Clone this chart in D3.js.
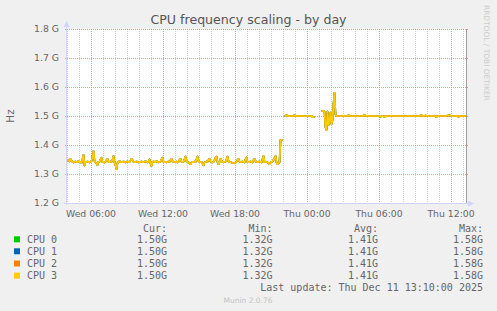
<!DOCTYPE html>
<html><head><meta charset="utf-8">
<script src="https://cdn.jsdelivr.net/npm/d3@7"></script>
<style>html,body{margin:0;padding:0;background:#f0f0f0;}svg{display:block;}</style>
</head><body>
<svg id="chart" width="497" height="311"></svg>
<script>
// ---- data ----
const title = "CPU frequency scaling - by day";
const yTicks = [1200, 1300, 1400, 1500, 1600, 1700, 1800]; // MHz
const yTickLabels = ["1.2 G", "1.3 G", "1.4 G", "1.5 G", "1.6 G", "1.7 G", "1.8 G"];
const seriesNames = ["CPU 0", "CPU 1", "CPU 2", "CPU 3"];
const seriesColors = ["#00cc00", "#0066b3", "#ff8000", "#ffcc00"];
const curVals = ["1.50G", "1.50G", "1.50G", "1.50G"];
const minVals = ["1.32G", "1.32G", "1.32G", "1.32G"];
const avgVals = ["1.41G", "1.41G", "1.41G", "1.41G"];
const maxVals = ["1.58G", "1.58G", "1.58G", "1.58G"];
const lastUpdate = "Last update: Thu Dec 11 13:10:00 2025";
const startTime = Date.UTC(2025, 11, 10, 4, 0);   // Wed 04:00, 5-minute samples
const stepMs = 5 * 60 * 1000;
const endTime = Date.UTC(2025, 11, 11, 13, 20);
// CPU frequency in MHz, one value per 5 minutes (null = no data); all four CPUs identical
const freqMHz = [
1345,1347,1344,1352,1346,1342,1340,1342,1343,1341,1342,1344,
1341,1342,1338,1350,1366,1330,1342,1341,1343,1342,1340,1342,
1345,1358,1379,1345,1340,1338,1331,1342,1343,1350,1356,1341,
1342,1340,1342,1348,1352,1342,1341,1343,1342,1348,1362,1340,
1330,1317,1338,1342,1344,1342,1341,1342,1343,1342,1340,1342,
1343,1341,1342,1346,1352,1348,1342,1341,1342,1343,1342,1340,
1342,1341,1343,1342,1341,1342,1344,1342,1340,1342,1350,1336,
1328,1342,1343,1342,1341,1344,1342,1340,1342,1343,1350,1356,
1342,1341,1342,1340,1342,1343,1342,1348,1352,1344,1342,1341,
1342,1343,1340,1342,1348,1352,1342,1341,1343,1350,1360,1344,
1342,1340,1336,1334,1340,1342,1341,1343,1342,1350,1360,1345,
1342,1341,1342,1336,1330,1340,1342,1343,1342,1348,1352,1343,
1342,1340,1342,1348,1356,1360,1342,1334,1342,1352,1346,1342,
1341,1342,1343,1350,1360,1344,1342,1341,1340,1338,1338,1338,
1339,1342,1348,1352,1343,1342,1341,1343,1342,1340,1350,1357,
1342,1341,1342,1343,1342,1340,1348,1352,1344,1342,1341,1342,
1343,1342,1340,1350,1362,1342,1341,1342,1340,1338,1334,1340,
1342,1343,1348,1355,1362,1340,1334,1336,1340,1417,1418,1418,
null,1500,1500,1503,1501,1500,1500,1500,1500,1500,1500,1503,
1500,1500,1500,1501,1500,1500,1500,1500,1500,1500,1500,1500,
1500,1500,1500,1500,1500,1497,1496,1497,null,null,null,null,
null,null,1518,1518,1518,1515,1462,1452,1515,1470,1480,1512,
1472,1485,1540,1580,1505,1500,1500,1500,1500,1500,1500,1500,
1500,1500,1500,1500,1500,1503,1501,1500,1500,1500,1500,1500,
1500,1500,1500,1500,1500,1500,1500,1500,1502,1503,1500,1500,
1500,1500,1500,1500,1500,1500,1500,1500,1500,1500,1500,1500,
1498,1497,1499,1500,1498,1497,1500,1499,1500,1500,1500,1500,
1500,1500,1500,1500,1500,1500,1500,1500,1500,1500,1500,1500,
1500,1500,1500,1500,1500,1500,1500,1500,1500,1500,1500,1500,
1500,1500,1500,1500,1500,1502,1503,1500,1500,1500,1502,1500,
1500,1500,1500,1500,1500,1500,1500,1500,1498,1497,1500,1500,
1500,1500,1500,1500,1500,1500,1500,1500,1501,1502,1503,1501,
1500,1500,1500,1500,1500,1500,1500,1497,1500,1500,1500,1500,
1500,1500,1500,1500
];

// ---- drawing ----
const svg = d3.select("#chart");
const W = 497, H = 311;
const L = 67, R = 467, T = 29, B = 203;
const font = "'DejaVu Sans', sans-serif";
const mono = "'DejaVu Sans Mono', monospace";

svg.append("rect").attr("width", W).attr("height", H).attr("fill", "#f0f0f0");

const x = d3.scaleUtc().domain([new Date(startTime), new Date(endTime)]).range([L, R]);
const y = d3.scaleLinear().domain([1200, 1800]).range([B, T]);

svg.append("rect").attr("x", L).attr("y", T).attr("width", R - L).attr("height", B - T).attr("fill", "#ffffff");

const snap = v => Math.round(v) + 0.5;
const minorCol = "rgba(160,160,160,0.5)";
const majorCol = "rgba(226,110,110,0.7)";

// minor vertical grid (hourly)
const hours = d3.utcHour.every(1).range(new Date(startTime), new Date(endTime));
svg.append("g").selectAll("line").data(hours.filter(d => d.getUTCHours() % 6 !== 0)).join("line")
  .attr("x1", d => snap(x(d))).attr("x2", d => snap(x(d)))
  .attr("y1", T).attr("y2", B + 2)
  .attr("stroke", minorCol).attr("stroke-dasharray", "1,1");
// major vertical grid (6h)
const majors = d3.utcHour.every(6).range(new Date(startTime), new Date(endTime));
svg.append("g").selectAll("line").data(majors).join("line")
  .attr("x1", d => snap(x(d))).attr("x2", d => snap(x(d)))
  .attr("y1", T).attr("y2", B + 2)
  .attr("stroke", majorCol).attr("stroke-dasharray", "1,1");
// horizontal grid
svg.append("g").selectAll("line").data(yTicks).join("line")
  .attr("x1", L - 2).attr("x2", R + 2)
  .attr("y1", d => snap(y(d) - 0.5)).attr("y2", d => snap(y(d) - 0.5))
  .attr("stroke", majorCol).attr("stroke-dasharray", "1,1");

// y labels
svg.append("g").selectAll("text").data(yTicks).join("text")
  .attr("x", 59).attr("y", d => y(d) + 3.4)
  .attr("text-anchor", "end").attr("font-family", font).attr("font-size", 9.3)
  .attr("fill", "#666").text((d, i) => yTickLabels[i]);
// x labels
svg.append("g").selectAll("text").data(majors).join("text")
  .attr("x", d => x(d)).attr("y", 217)
  .attr("text-anchor", "middle").attr("font-family", font).attr("font-size", 9.3)
  .attr("fill", "#666").text(d => d3.utcFormat("%a %H:%M")(d));

// right edge line
svg.append("line").attr("x1", R - 0.5).attr("x2", R - 0.5).attr("y1", T).attr("y2", B)
  .attr("stroke", "#a0a0a0");

// axes (light blue) with arrows
const axisCol = "#cfd6f8";
svg.append("line").attr("x1", L - 0.5).attr("x2", L - 0.5).attr("y1", B + 2).attr("y2", 24)
  .attr("stroke", axisCol);
svg.append("path").attr("d", `M${L - 3.5},${27} L${L - 0.5},${21} L${L + 2.5},${27} Z`).attr("fill", axisCol);
svg.append("line").attr("x1", L - 3).attr("x2", 471).attr("y1", B + 0.5).attr("y2", B + 0.5)
  .attr("stroke", axisCol);
svg.append("path").attr("d", `M${468},${B - 2.5} L${474},${B + 0.5} L${468},${B + 3.5} Z`).attr("fill", axisCol);

// series lines (identical values, drawn in legend order)
const pts = freqMHz.map((v, i) => ({ t: new Date(startTime + i * stepMs), v }));
const line = d3.line().defined(d => d.v != null).x(d => x(d.t) + 0.5).y(d => y(d.v));
seriesNames.forEach((n, k) => {
  svg.append("path").datum(pts).attr("d", line).attr("fill", "none")
    .attr("stroke", seriesColors[k]).attr("stroke-width", 1.7).attr("stroke-linejoin", "round");
});

// title
svg.append("text").attr("x", 248.5).attr("y", 23.5).attr("text-anchor", "middle")
  .attr("font-family", font).attr("font-size", 12.6).attr("fill", "#555").text(title);
// y axis title
svg.append("text").attr("transform", "translate(14,116) rotate(-90)").attr("text-anchor", "middle")
  .attr("font-family", font).attr("font-size", 10.4).attr("fill", "#666").text("Hz");
// watermark
svg.append("text").attr("transform", "translate(484,5) rotate(90)").attr("text-anchor", "start")
  .attr("font-family", font).attr("font-size", 7.45).attr("fill", "#cccccc").text("RRDTOOL / TOBI OETIKER");

// legend
const lg = svg.append("g").attr("font-family", mono).attr("font-size", 10).attr("fill", "#666");
const colX = [167, 272.5, 378, 483];
const headers = ["Cur:", "Min:", "Avg:", "Max:"];
headers.forEach((h, j) => {
  lg.append("text").attr("x", colX[j]).attr("y", 231.8).attr("text-anchor", "end").text(h + " ");
});
const rowY = [239.3, 251.3, 263.5, 275.6];
const cols = [curVals, minVals, avgVals, maxVals];
seriesNames.forEach((n, k) => {
  lg.append("rect").attr("x", 14).attr("y", rowY[k] - 3).attr("width", 6).attr("height", 6).attr("fill", seriesColors[k]);
  lg.append("text").attr("x", 27).attr("y", rowY[k] + 3.6).text(n);
  cols.forEach((c, j) => {
    lg.append("text").attr("x", colX[j]).attr("y", rowY[k] + 3.6).attr("text-anchor", "end").text(c[k]);
  });
});
lg.append("text").attr("x", 483).attr("y", 287.3 + 3.6).attr("text-anchor", "end").text(lastUpdate);
svg.append("text").attr("x", 248).attr("y", 303).attr("text-anchor", "middle")
  .attr("font-family", font).attr("font-size", 7.5).attr("fill", "#c4c4c4").text("Munin 2.0.76");
</script>
</body></html>
